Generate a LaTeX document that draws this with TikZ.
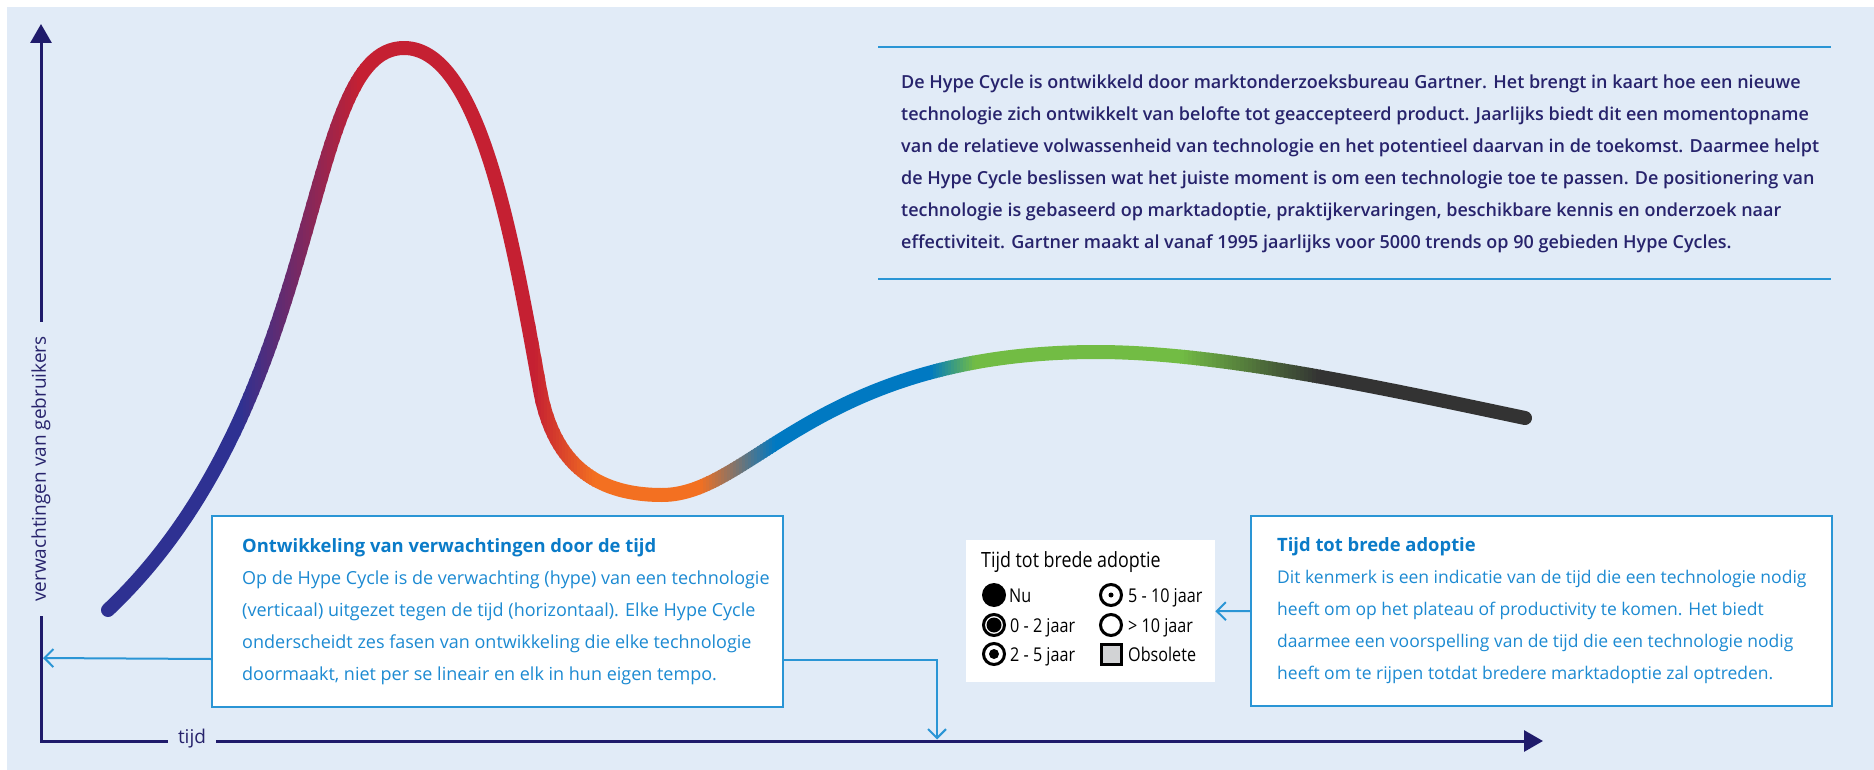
\documentclass[tikz,border=0pt]{standalone}
\usepackage{fontspec}
\setmainfont{Open Sans}
\IfFontExistsTF{Open Sans SemiBold}{\newfontfamily\topfont{Open Sans SemiBold}}{%
  \IfFontExistsTF{Open Sans Semibold}{\newfontfamily\topfont{Open Sans Semibold}}{\newfontfamily\topfont[FakeBold=1]{Open Sans}}}
\newfontfamily\condfont[FakeStretch=0.85]{Open Sans}
\usetikzlibrary{arrows.meta}

\definecolor{bg}{HTML}{E1EBF7}
\definecolor{navy}{HTML}{1F1B6B}
\definecolor{tnavy}{HTML}{27236C}
\definecolor{cnavy}{HTML}{2E3192}
\definecolor{cred}{HTML}{C52032}
\definecolor{corange}{HTML}{F37021}
\definecolor{cblue}{HTML}{0079C2}
\definecolor{cgreen}{HTML}{72BC44}
\definecolor{cdark}{HTML}{333333}
\definecolor{bline}{HTML}{2A95D5}
\definecolor{btext}{HTML}{1C8AD2}
\definecolor{btitle}{HTML}{0A7BC8}
\definecolor{obsgray}{HTML}{D2D3D5}

\def\hcurve{(108,610) .. controls (330,400) and (300,48) .. (404,48) .. controls (480,48) and (513,240) .. (540,390) .. controls (553,460) and (592,495) .. (662,495) .. controls (752,495) and (817,352) .. (1097,352) .. controls (1217,352) and (1378,387) .. (1525,418)}

\newcommand\solidpart[3]{\begin{scope}\clip (#1,0) rectangle (#2,770); \draw[curvestyle,#3] \hcurve; \end{scope}}
\newcommand\gradpart[5]{%
  \foreach \i in {1,...,#5}{%
    \pgfmathsetmacro\xa{#1+(#2-#1)*(\i-1)/#5}%
    \pgfmathsetmacro\xb{#1+(#2-#1)*\i/#5+1}%
    \pgfmathtruncatemacro\pp{round(100*(\i-0.5)/#5)}%
    \colorlet{cc}{#4!\pp!#3}%
    \begin{scope}\clip (\xa,0) rectangle (\xb,770); \draw[curvestyle,cc] \hcurve; \end{scope}}}

\tikzset{
  curvestyle/.style={line width=14pt, line cap=round, line join=round},
  axisline/.style={navy, line width=3pt, line join=miter},
  conn/.style={bline, line width=2pt, -{Straight Barb[length=9pt,width=18pt]}},
  infobox/.style={draw=bline, line width=2pt, fill=white, inner sep=0pt, anchor=north west},
  boxtext/.style={anchor=west, align=left, inner sep=0pt, text=btext},
  axlabel/.style={fill=bg, text=tnavy, font=\fontsize{19}{23}\selectfont, inner ysep=2pt},
  ring/.style={circle, draw=black, line width=3pt, minimum size=21pt, inner sep=0pt, fill=white},
  legtext/.style={anchor=base west, inner sep=0pt, font=\condfont\fontsize{19}{22}\selectfont}
}

\begin{document}
\begin{tikzpicture}[x=1pt,y=-1pt]
\useasboundingbox (0,0) rectangle (1874,770);
\fill[bg] (7,7) rectangle (1874,770);

% gradient curve
\solidpart{0}{241}{cnavy}
\gradpart{240}{360}{cnavy}{cred}{40}
\solidpart{360}{536}{cred}
\gradpart{535}{595}{cred}{corange}{20}
\solidpart{595}{701}{corange}
\gradpart{700}{775}{corange}{cblue}{25}
\solidpart{775}{931}{cblue}
\gradpart{930}{975}{cblue}{cgreen}{15}
\solidpart{975}{1181}{cgreen}
\gradpart{1180}{1320}{cgreen}{cdark}{35}
\solidpart{1320}{1874}{cdark}

% axes
\coordinate (ytop) at (41,24);
\coordinate (O) at (41,741);
\coordinate (xend) at (1543,741);
\draw[axisline, {Triangle[length=19pt,width=21pt]}-{Triangle[length=19pt,width=21pt]}] (ytop) -- (O) -- (xend);
\node[axlabel, rotate=90, inner xsep=14pt] (ylab) at (41,469) {verwachtingen van gebruikers};
\node[axlabel, inner xsep=10pt] (xlab) at (192,739) {tijd};

% top text
\draw[bline, line width=2pt] (878,47) -- (1831,47);
\draw[bline, line width=2pt] (878,279) -- (1831,279);
\node[anchor=west, align=left, inner sep=0pt, text=tnavy, font=\topfont\fontsize{18}{32}\selectfont] (toptext) at (901,164) {De Hype Cycle is ontwikkeld door marktonderzoeksbureau Gartner. Het brengt in kaart hoe een nieuwe\\
technologie zich ontwikkelt van belofte tot geaccepteerd product. Jaarlijks biedt dit een momentopname\\
van de relatieve volwassenheid van technologie en het potentieel daarvan in de toekomst. Daarmee helpt\\
de Hype Cycle beslissen wat het juiste moment is om een technologie toe te passen. De positionering van\\
technologie is gebaseerd op marktadoptie, praktijkervaringen, beschikbare kennis en onderzoek naar\\
effectiviteit. Gartner maakt al vanaf 1995 jaarlijks voor 5000 trends op 90 gebieden Hype Cycles.};

% left box
\node[infobox, minimum width=571pt, minimum height=191pt] (lbox) at (211,515) {};
\node[boxtext, font=\fontsize{18}{32}\selectfont] (ltext) at ([xshift=31pt]lbox.west) {{\color{btitle}\bfseries\fontsize{18.4}{32}\selectfont Ontwikkeling van verwachtingen door de tijd}\\
Op de Hype Cycle is de verwachting (hype) van een technologie\\
(verticaal) uitgezet tegen de tijd (horizontaal). Elke Hype Cycle\\
onderscheidt zes fasen van ontwikkeling die elke technologie\\
doormaakt, niet per se lineair en elk in hun eigen tempo.};

% right box
\node[infobox, minimum width=581pt, minimum height=190pt] (rbox) at (1250,515) {};
\node[boxtext, font=\fontsize{17.5}{32}\selectfont] (rtext) at ([xshift=27pt]rbox.west) {{\color{btitle}\bfseries\fontsize{18.4}{32}\selectfont Tijd tot brede adoptie}\\
Dit kenmerk is een indicatie van de tijd die een technologie nodig\\
heeft om op het plateau of productivity te komen. Het biedt\\
daarmee een voorspelling van de tijd die een technologie nodig\\
heeft om te rijpen totdat bredere marktadoptie zal optreden.};

% legend
\node[fill=white, minimum width=249pt, minimum height=142pt, inner sep=0pt, anchor=north west] (legend) at (966,540) {};
\node[anchor=base west, inner sep=0pt, font=\condfont\fontsize{21}{24}\selectfont] (legtitle) at (981,567) {Tijd tot brede adoptie};
\node[circle, fill=black, minimum size=24pt, inner sep=0pt] (s1) at (994,595) {};
\node[ring] (s2) at (994,625) {};
\fill (s2) circle (7.5pt);
\node[ring] (s3) at (994,654) {};
\fill (s3) circle (5pt);
\node[ring] (s4) at (1111,595) {};
\fill (s4) circle (2.5pt);
\node[ring] (s5) at (1111,625) {};
\node[draw=black, line width=3pt, fill=obsgray, minimum size=20pt, inner sep=0pt] (s6) at (1111,654) {};
\node[legtext] (l1) at (1009,602) {Nu};
\node[legtext] (l2) at (1010,632) {0 - 2 jaar};
\node[legtext] (l3) at (1010,661) {2 - 5 jaar};
\node[legtext] (l4) at (1128,602) {5 - 10 jaar};
\node[legtext] (l5) at (1128,632) {> 10 jaar};
\node[legtext] (l6) at (1128,661) {Obsolete};

% connectors
\coordinate (ytip) at (43,658);
\coordinate (xtip) at (937,739.5);
\draw[conn] ([yshift=-47.5pt]lbox.west) -- (ytip);
\draw[conn] ([yshift=-48.5pt]lbox.east) -| (xtip);
\draw[conn] (rbox.west) -- (legend.east);
\end{tikzpicture}
\end{document}
